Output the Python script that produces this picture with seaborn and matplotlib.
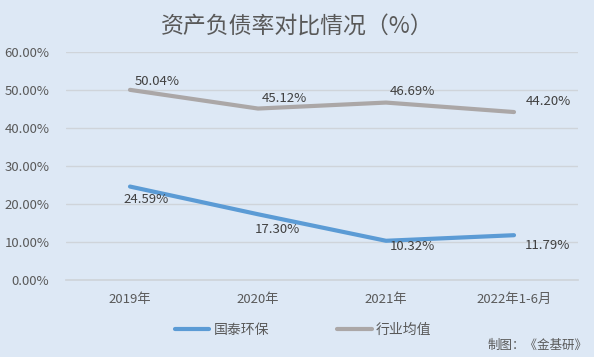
import pandas as pd
import seaborn as sns
import matplotlib.pyplot as plt
from matplotlib.ticker import PercentFormatter

years = ['2019年', '2020年', '2021年', '2022年1-6月']
guotai = [24.59, 17.30, 10.32, 11.79]
industry = [50.04, 45.12, 46.69, 44.20]

bg = '#dde8f5'
blue = '#5b9bd5'
gray = '#aba7a7'
txt = '#595959'

sns.set_theme(style='white')
plt.rcParams['font.family'] = ['Noto Sans CJK SC', 'DejaVu Sans']

df = pd.DataFrame({'year': years * 2,
                   'value': guotai + industry,
                   'name': ['国泰环保'] * 4 + ['行业均值'] * 4})

fig = plt.figure(figsize=(5.94, 3.57), dpi=100, facecolor=bg)
ax = fig.add_axes([66 / 594, 1 - 280 / 357, 512 / 594, 228 / 357])
ax.set_facecolor(bg)

sns.lineplot(data=df, x='year', y='value', hue='name', sort=False,
             palette={'国泰环保': blue, '行业均值': gray},
             linewidth=3, ax=ax, legend=False)

ax.set_xlim(-0.5, 3.5)
ax.set_ylim(0, 60)
ax.set_yticks(range(0, 61, 10))
ax.yaxis.set_major_formatter(PercentFormatter(decimals=2))
ax.grid(axis='y', color='#cfd4da', linewidth=1)
ax.set_axisbelow(True)
for s in ax.spines.values():
    s.set_visible(False)
ax.spines['bottom'].set_visible(True)
ax.spines['bottom'].set_color('#cfd4da')
ax.set_xlabel('')
ax.set_ylabel('')
ax.tick_params(axis='y', colors=txt, labelsize=9.5, pad=12, length=0)
ax.tick_params(axis='x', colors=txt, labelsize=9.5, pad=9, length=0)

# data labels
gray_off = [(27, 8), (26, 10), (26, 11), (34, 11)]
blue_off = [(16, -13), (19, -15), (26, -6), (33, -10)]
for i, v in enumerate(industry):
    ax.annotate(f'{v:.2f}%', (i, v), textcoords='offset pixels', xytext=gray_off[i],
                ha='center', va='center', fontsize=9.5, color='#404040')
for i, v in enumerate(guotai):
    ax.annotate(f'{v:.2f}%', (i, v), textcoords='offset pixels', xytext=blue_off[i],
                ha='center', va='center', fontsize=9.5, color='#404040')

fig.text(0.5, 1 - 27 / 357, '资产负债率对比情况（%）', ha='center', va='center',
         fontsize=16.5, color=txt)

handles = [plt.Line2D([], [], color=blue, linewidth=3),
           plt.Line2D([], [], color=gray, linewidth=3)]
fig.legend(handles, ['国泰环保', '行业均值'], loc='center', ncol=2,
           bbox_to_anchor=(303 / 594, 1 - 330 / 357), frameon=False,
           fontsize=10, labelcolor=txt, handlelength=2.5, handletextpad=0.3,
           columnspacing=4.9)

fig.text(588 / 594, 1 - 345 / 357, '制图：《金基研》', ha='right', va='center',
         fontsize=9, color=txt)

fig.savefig('out.png', dpi=100, facecolor=bg)
